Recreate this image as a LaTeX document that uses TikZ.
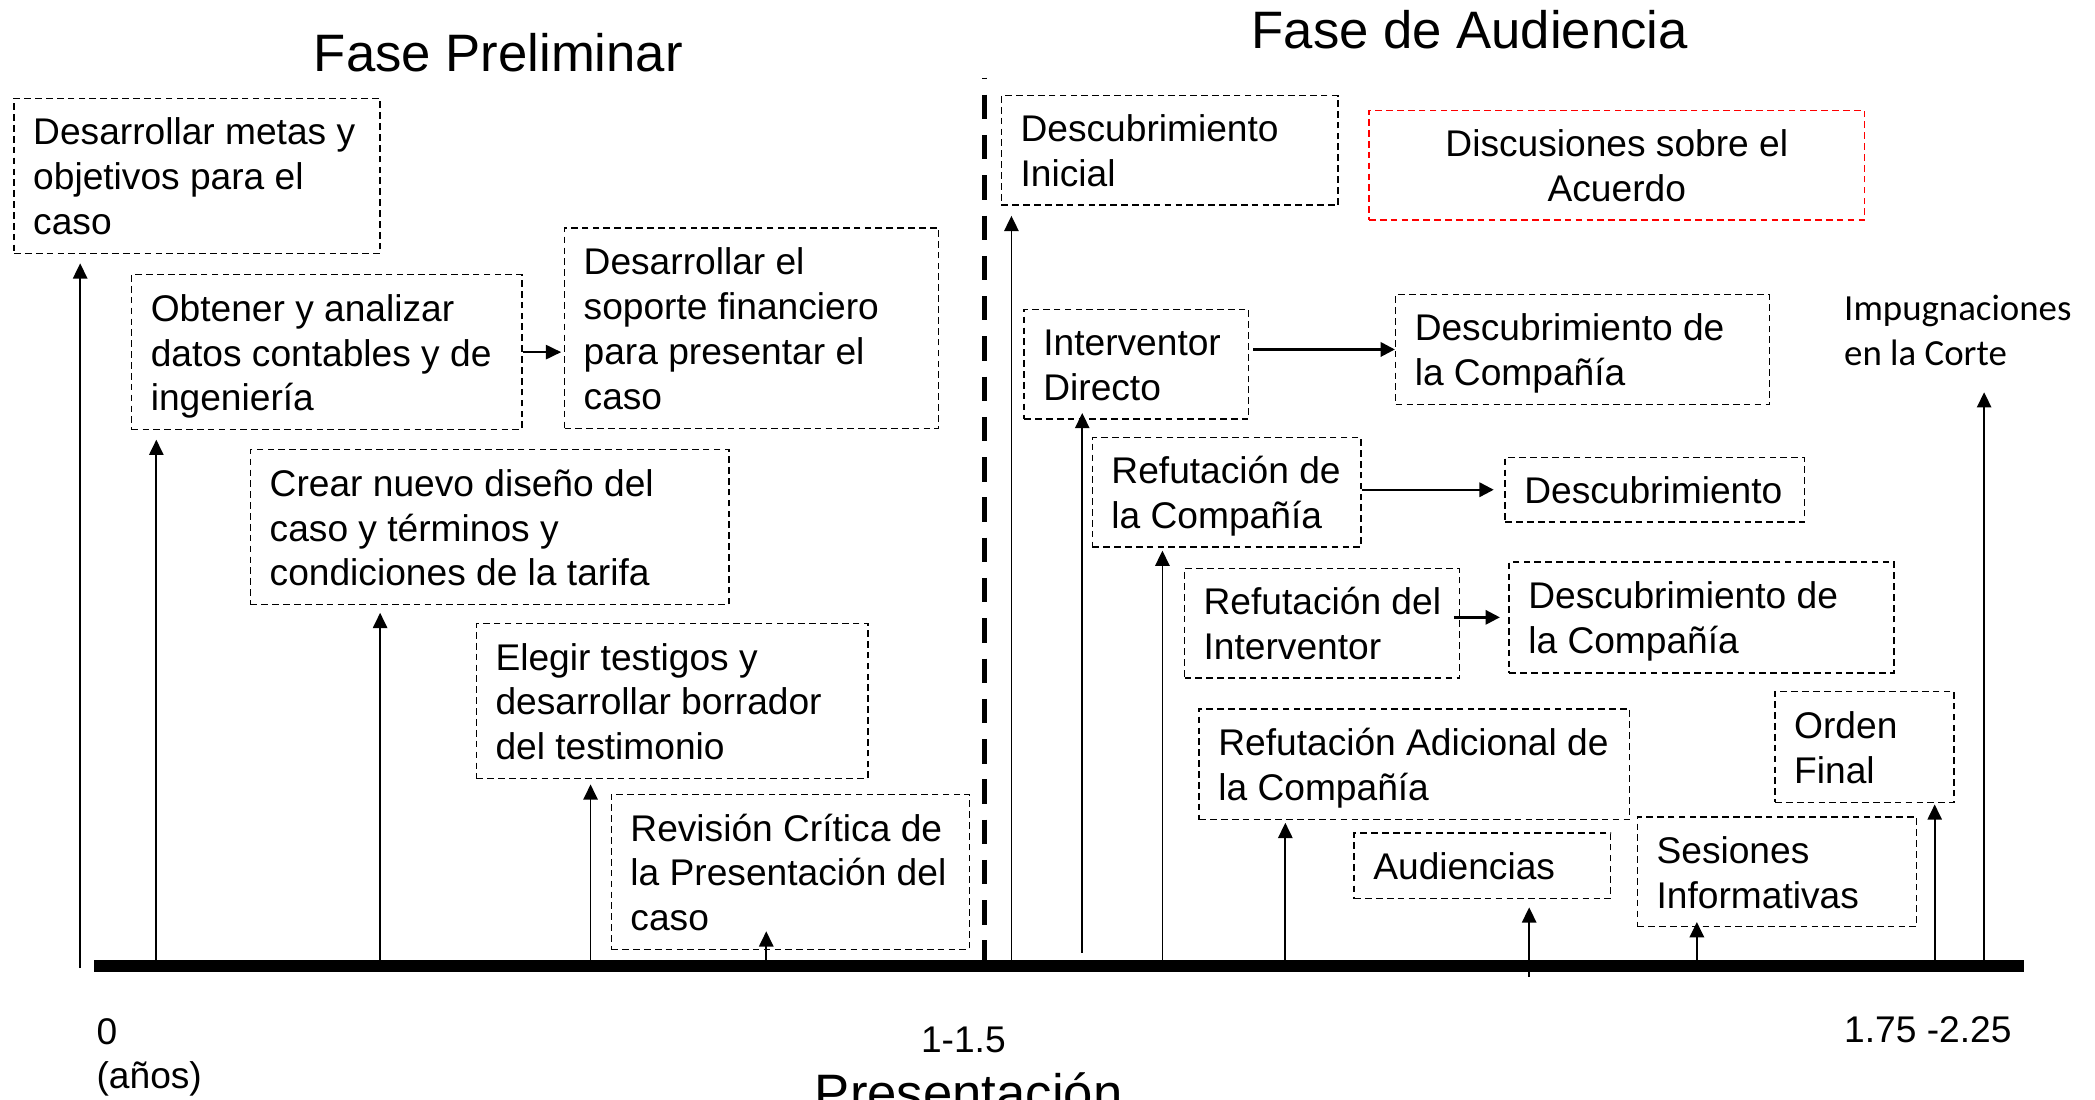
\documentclass[tikz,border=0pt]{standalone}
\usepackage{fontspec}
\setmainfont{Liberation Sans}
\newfontfamily\calfont{Carlito}
\usetikzlibrary{arrows.meta}
\tikzset{
  bx/.style={draw=black, line width=0.75pt, dash pattern=on 3.5pt off 2.2pt, inner sep=0pt},
  redbx/.style={draw=red, line width=0.8pt, dash pattern=on 3.5pt off 2.2pt, inner sep=0pt},
  txt/.style={align=left, inner sep=0pt, font=\fontsize{19.46}{23.45}\selectfont},
  lbl/.style={inner sep=0pt, font=\fontsize{19.46}{23.45}\selectfont},
  ttl/.style={inner sep=0pt, anchor=base, font=\fontsize{27.6}{33}\selectfont},
  arr/.style={line width=0.95pt, -{Triangle[width=7.5pt,length=8pt]}},
  harr/.style={line width=1.25pt, -{Triangle[width=7.5pt,length=7.5pt]}},
  tline/.style={line width=6.1pt},
  divider/.style={line width=2.4pt, dash pattern=on 12.8pt off 8.3pt, dash phase=12.1pt},
}
\newcommand\tbox[6]{%
  \pgfmathsetmacro\bxw{(#4-#2)*0.7}%
  \pgfmathsetmacro\bxh{(#5-#3)*0.7}%
  \node[bx, minimum width=\bxw pt, minimum height=\bxh pt, anchor=north west] (#1) at (#2,#3) {};
  \node[txt, anchor=west] (#1t) at ([xshift=10.2pt,yshift=-2.6pt]#1.west) {\strut #6\strut};
}
\begin{document}
\begin{tikzpicture}[x=0.7pt, y=-0.7pt]
\clip (0,0) rectangle (1568,823);
\useasboundingbox (0,0) rectangle (1568,823);

% titles
\node[ttl] (t1) at (373,53.6) {Fase Preliminar};
\node[ttl] (t2) at (1100,36.2) {Fase de Audiencia};
\node[ttl] (pres) at (725,832) {Presentación};

% boxes - preliminary phase
\tbox{b1}{10}{73}{284}{189}{Desarrollar metas y\\objetivos para el\\caso}
\tbox{b2}{98}{205}{390}{321}{Obtener y analizar\\datos contables y de\\ingeniería}
\tbox{b3}{422}{170}{702}{320}{Desarrollar el\\soporte financiero\\para presentar el\\caso}
\tbox{b4}{187}{336}{545}{452}{Crear nuevo diseño del\\caso y términos y\\condiciones de la tarifa}
\tbox{b5}{356}{466}{649}{582}{Elegir testigos y\\desarrollar borrador\\del testimonio}
\tbox{b6}{457}{594}{725}{710}{Revisión Crítica de\\la Presentación del\\caso}

% boxes - hearing phase
\tbox{b7}{749}{71}{1001}{153}{Descubrimiento\\Inicial}
\pgfmathsetmacro\bxw{(1395-1024)*0.7}
\pgfmathsetmacro\bxh{(164-82)*0.7}
\node[redbx, minimum width=\bxw pt, minimum height=\bxh pt, anchor=north west] (red) at (1024,82) {};
\node[txt, align=center] (redt) at ([yshift=-2.6pt]red.center) {\strut Discusiones sobre el\\Acuerdo\strut};
\tbox{b9}{766}{231}{934}{313}{Interventor\\Directo}
\tbox{b10}{1044}{220}{1324}{302}{Descubrimiento de\\la Compañía}
\tbox{b11}{817}{327}{1018}{409}{Refutación de\\la Compañía}
\tbox{b12}{1126}{342}{1350}{390}{Descubrimiento}
\tbox{b13}{886}{425}{1092}{507}{Refutación del\\Interventor}
\tbox{b14}{1129}{420}{1417}{503}{Descubrimiento de\\la Compañía}
\tbox{b15}{897}{530}{1219}{613}{Refutación Adicional de\\la Compañía}
\tbox{b16}{1328}{517}{1462}{600}{Orden\\Final}
\tbox{b17}{1013}{623}{1205}{672}{Audiencias}
\tbox{b18}{1225}{611}{1434}{693}{Sesiones\\Informativas}

\node[inner sep=0pt, anchor=base west, align=left, font=\calfont\fontsize{19.3}{23.2}\selectfont] (imp) at (1380,273.2) {Impugnaciones\\en la Corte};

% axis labels
\node[lbl, anchor=base west, align=left] (l0) at (72,815) {0\\(años)};
\node[lbl, anchor=base] (l1) at (721,788) {1-1.5};
\node[lbl, anchor=base west] (l2) at (1380,780) {1.75 -2.25};

% timeline and divider
\coordinate (t0) at (70.5,723);
\coordinate (t9) at (1514.5,723);
\coordinate (d0) at (737,58);
\coordinate (d1) at (737,728);
\draw[divider] (d0) -- (d1);

% arrow bases
\coordinate (a1) at (60,724.5);
\coordinate (a2) at (117,724);
\coordinate (a4) at (284.5,724);
\coordinate (a5) at (442,724);
\coordinate (a6) at (573.5,724);
\coordinate (a6e) at (573.5,697);
\coordinate (a7) at (757,724);
\coordinate (a9) at (810,713);
\coordinate (a11) at (870,724);
\coordinate (a15) at (962,724);
\coordinate (a17) at (1144.5,731);
\coordinate (a18) at (1270,724);
\coordinate (a16) at (1448,724);
\coordinate (aimp) at (1485,724);

\draw[arr, shorten >=4.9pt] (a1) -- (a1 |- b1.south);
\draw[arr, shorten >=4.9pt] (a2) -- (a2 |- b2.south);
\draw[arr, shorten >=3.9pt] (a4) -- (a4 |- b4.south);
\draw[arr, shorten >=2.8pt] (a5) -- (a5 |- b5.south);
\draw[arr] (a6) -- (a6e);
\draw[arr, shorten >=5.2pt] (a7) -- (a7 |- b7.south);
\draw[arr, shorten >=-3.5pt] (a9) -- (a9 |- b9.south);
\draw[arr, shorten >=1.4pt] (a11) -- (a11 |- b11.south);
\draw[arr, shorten >=1.2pt] (a15) -- (a15 |- b15.south);
\draw[arr, shorten >=4.2pt] (a17) -- (a17 |- b17.south);
\draw[arr, shorten >=-2.8pt] (a18) -- (a18 |- b18.south);
\draw[arr, shorten >=0.7pt] (a16) -- (a16 |- b16.south);
\draw[arr, shorten >=13.9pt] (aimp) -- (aimp |- imp.south);

\draw[tline] (t0) -- (t9);

% horizontal connectors
\draw[arr, shorten >=1.4pt] (b2.east) -- (b2.east -| b3.west);
\draw[harr, line width=1.4pt, shorten <=2pt] (b9.east |- b10.west) -- (b10.west);
\draw[harr, shorten >=5.6pt] (b11.east |- b12.west) -- (b12.west);
\draw[harr, shorten <=-3.5pt, shorten >=4.5pt] (b13.east |- b14.west) -- (b14.west);
\end{tikzpicture}
\end{document}
